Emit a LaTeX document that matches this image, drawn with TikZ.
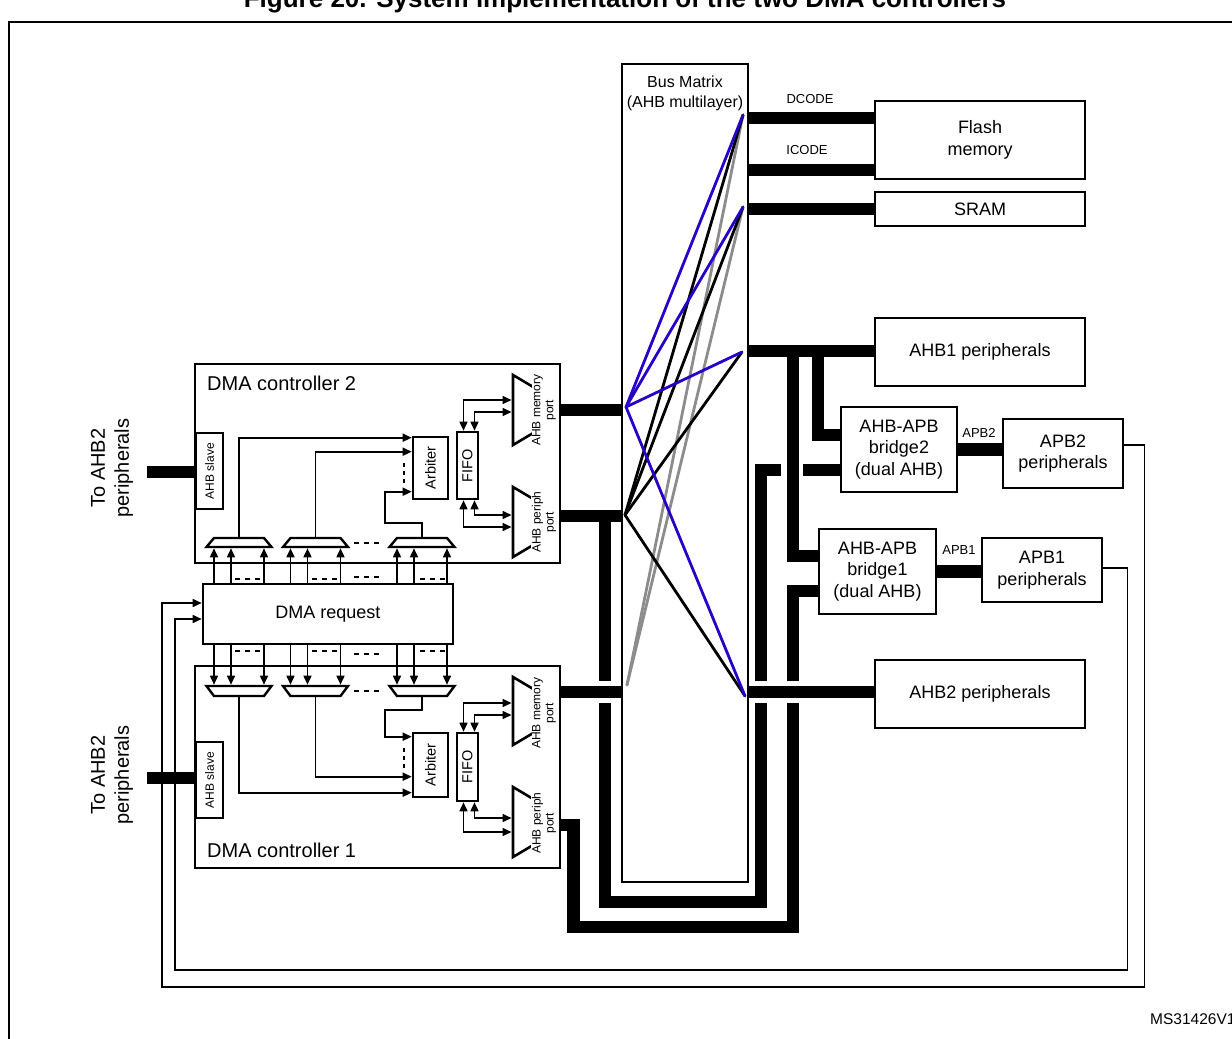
\documentclass[tikz,border=0pt]{standalone}
\usepackage{fontspec}
\setmainfont{Liberation Sans}
\usetikzlibrary{arrows.meta}
\definecolor{xblue}{RGB}{40,0,200}
\definecolor{xgray}{RGB}{140,140,140}
\newcommand\ftA{\fontsize{20}{24}\selectfont}
\newcommand\ftB{\fontsize{18}{21.5}\selectfont}
\newcommand\ftC{\fontsize{16}{20}\selectfont}
\newcommand\ftD{\fontsize{13}{15}\selectfont}
\newcommand\ftE{\fontsize{14.5}{16}\selectfont}
\newcommand\ftF{\fontsize{12}{13}\selectfont}
\newcommand\ftG{\fontsize{15.5}{18}\selectfont}
\begin{document}
\begin{tikzpicture}[x=1pt,y=-1pt,
  box/.style={draw, line width=2.6pt, inner sep=0pt, align=center},
  portline/.style={draw, line width=2.6pt, line join=miter},
  bus/.style={line width=12.5pt, line cap=butt, line join=miter},
  gapw/.style={white, line width=22pt, line cap=butt},
  thinl/.style={line width=1.6pt},
  arr/.style={thinl, -{Triangle[length=9pt,width=8pt]}},
  darr/.style={thinl, {Triangle[length=9pt,width=8pt]}-{Triangle[length=9pt,width=8pt]}},
  xbar/.style={line width=2.8pt, line cap=round},
  dsh/.style={line width=1.8pt, dash pattern=on 5pt off 5pt},
  dsv/.style={line width=1.8pt, dash pattern=on 4pt off 4pt},
  muxline/.style={draw, line width=2.4pt, line join=miter},
  ptext/.style={font=\ftF, align=center, rotate=90, fill=white, inner sep=0.5pt},
  muxup/.pic={
    \draw[muxline] (-25,-4.5) -- (25,-4.5) -- (32.5,4.5) -- (-32.5,4.5) -- cycle;
    \coordinate (-t) at (0,-5.7);
    \coordinate (-i1) at (-25,5.8);
    \coordinate (-i2) at (-8,5.8);
    \coordinate (-i3) at (25,5.8);
  },
  muxdown/.pic={
    \draw[muxline] (-32.5,-5) -- (32.5,-5) -- (25,5) -- (-25,5) -- cycle;
    \coordinate (-t) at (0,6.2);
    \coordinate (-i1) at (-25,-6.3);
    \coordinate (-i2) at (-8,-6.3);
    \coordinate (-i3) at (25,-6.3);
  }
]
\useasboundingbox (0,0) rectangle (1232,1039);

% frame and title
\draw[line width=2pt] (9,22) rectangle (1262,1062);
\node[font=\bfseries\fontsize{26}{30}\selectfont, anchor=base, inner sep=0pt] (title) at (625,7) {Figure 20. System implementation of the two DMA controllers};
\node[font=\ftG, anchor=west, inner sep=0pt] (ms) at (1150,1019) {MS31426V1};

% level coordinates
\coordinate (ydc) at (0,118);
\coordinate (yic) at (0,170);
\coordinate (ya1) at (0,351);
\coordinate (ya2) at (0,692);
\coordinate (y2m) at (0,410);
\coordinate (y2p) at (0,516);
\coordinate (y1m) at (0,692);
\coordinate (y1p) at (0,825);
\coordinate (ys2) at (0,472);
\coordinate (ys1) at (0,778);

% bus matrix
\node[box, line width=2pt, minimum width=126pt, minimum height=818pt] (bm) at (685,473) {};
\node[font=\ftC, align=center] (bml) at (685,93) {Bus Matrix\\(AHB multilayer)};

% right side boxes
\node[box, minimum width=210pt, minimum height=78pt, font=\ftB] (flash) at (980,140) {Flash\\memory};
\node[box, minimum width=210pt, minimum height=34pt, font=\ftB] (sram) at (980,209) {SRAM};
\node[box, minimum width=210pt, minimum height=68pt, font=\ftB] (ahb1) at (980,352) {AHB1 peripherals};
\node[box, minimum width=210pt, minimum height=68pt, font=\ftB] (ahb2) at (980,694) {AHB2 peripherals};
\node[box, minimum width=116pt, minimum height=85pt, font=\ftB] (br2) at (899,449.5) {AHB-APB\\bridge2\\(dual AHB)};
\node[box, minimum width=117pt, minimum height=85pt, font=\ftB] (br1) at (877.5,571.5) {AHB-APB\\bridge1\\(dual AHB)};
\node[box, minimum width=120pt, minimum height=69pt, font=\ftB] (apb2) at (1063,453.5) {APB2\\peripherals};
\node[box, minimum width=120pt, minimum height=64pt, font=\ftB] (apb1) at (1042,570) {APB1\\peripherals};
\node[font=\ftD] (lapb2) at (979,433) {APB2};
\node[font=\ftD] (lapb1) at (959,550) {APB1};
\node[font=\ftD] (ldc) at (810,99) {DCODE};
\node[font=\ftD] (lic) at (807,150) {ICODE};

% DMA controllers
\node[box, minimum width=365pt, minimum height=199pt] (dma2) at (377.5,463.5) {};
\node[box, minimum width=365pt, minimum height=202pt] (dma1) at (377.5,767) {};
\node[font=\ftA, anchor=base west, inner sep=0pt] (t2) at (207,390) {DMA controller 2};
\node[font=\ftA, anchor=base west, inner sep=0pt] (t1) at (207,857) {DMA controller 1};
\node[box, minimum width=250pt, minimum height=60pt, font=\ftB] (req) at (328,614) {DMA request};
\node[box, minimum width=27pt, minimum height=76pt, font=\ftF] (slave2) at (209.5,471) {\rotatebox{90}{AHB slave}};
\node[box, minimum width=27pt, minimum height=76pt, font=\ftF] (slave1) at (209.5,780) {\rotatebox{90}{AHB slave}};
\node[box, minimum width=35pt, minimum height=62pt, font=\ftE] (arb2) at (430.5,468) {\rotatebox{90}{Arbiter}};
\node[box, minimum width=21pt, minimum height=67pt, font=\ftE] (fifo2) at (467.5,465.5) {\rotatebox{90}{FIFO}};
\node[box, minimum width=35pt, minimum height=64pt, font=\ftE] (arb1) at (430.5,765) {\rotatebox{90}{Arbiter}};
\node[box, minimum width=21pt, minimum height=68pt, font=\ftE] (fifo1) at (467.5,767) {\rotatebox{90}{FIFO}};

\node[font=\ftA, align=center, rotate=90] (to2) at (112,468) {To AHB2\\peripherals};
\node[font=\ftA, align=center, rotate=90] (to1) at (112,775) {To AHB2\\peripherals};

% ports
\draw[portline] (513,375) -- (545,394) -- (545,426) -- (513,445) -- cycle;
\node[ptext] (tm2) at (544,410) {AHB memory\\port};
\draw[portline] (513,487) -- (545,506) -- (545,538) -- (513,557) -- cycle;
\node[ptext] (tp2) at (544,522) {AHB periph\\port};
\draw[portline] (513,677) -- (545,696) -- (545,726) -- (513,745) -- cycle;
\node[ptext] (tm1) at (544,713) {AHB memory\\port};
\draw[portline] (513,787) -- (545,806) -- (545,838) -- (513,857) -- cycle;
\node[ptext] (tp1) at (544,823) {AHB periph\\port};
\coordinate (pm2a) at (511.5,400);
\coordinate (pm2b) at (511.5,412);
\coordinate (pp2a) at (511.5,515);
\coordinate (pp2b) at (511.5,527);
\coordinate (pm1a) at (511.5,703);
\coordinate (pm1b) at (511.5,715);
\coordinate (pp1a) at (511.5,818);
\coordinate (pp1b) at (511.5,832);

% FIFO <-> ports
\draw[darr] ([xshift=-4pt]fifo2.north) |- (pm2a);
\draw[darr] ([xshift=7pt]fifo2.north) |- (pm2b);
\draw[darr] ([xshift=-4pt]fifo2.south) |- (pp2b);
\draw[darr] ([xshift=7pt]fifo2.south) |- (pp2a);
\draw[darr] ([xshift=-4pt]fifo1.north) |- (pm1a);
\draw[darr] ([xshift=7pt]fifo1.north) |- (pm1b);
\draw[darr] ([xshift=-4pt]fifo1.south) |- (pp1b);
\draw[darr] ([xshift=7pt]fifo1.south) |- (pp1a);

% muxes
\pic (m2a) at (239,542.5) {muxup};
\pic (m2b) at (315.5,542.5) {muxup};
\pic (m2c) at (422,542.5) {muxup};
\pic (m1a) at (239,691) {muxdown};
\pic (m1b) at (315.5,691) {muxdown};
\pic (m1c) at (422,691) {muxdown};

% request -> muxes
\foreach \m in {m2a,m2b,m2c} {
  \foreach \i in {i1,i2,i3} {
    \draw[arr] (req.north -| \m-\i) -- (\m-\i);
  }
}
\foreach \m in {m1a,m1b,m1c} {
  \foreach \i in {i1,i2,i3} {
    \draw[arr] (req.south -| \m-\i) -- (\m-\i);
  }
}
% dashes
\foreach \a in {235,312,420} {
  \draw[dsh] (\a,579) -- ++(25,0);
  \draw[dsh] (\a,651) -- ++(25,0);
}
\draw[dsh] (354,577) -- ++(25,0);
\draw[dsh] (354,654) -- ++(25,0);
\draw[dsh] (354,543) -- ++(25,0);
\draw[dsh] (354,691) -- ++(25,0);
\draw[dsv] (404,463) -- ++(0,20);
\draw[dsv] (404,748) -- ++(0,20);

% muxes -> arbiters
\draw[arr] (m2a-t) |- ([yshift=-2pt]arb2.north west);
\draw[arr] (m2b-t) |- ([yshift=-16pt]arb2.north west);
\draw[arr] (m2c-t) -- ++(0,-14) -| ([xshift=-27pt,yshift=-56pt]arb2.north west) -- ([yshift=-56pt]arb2.north west);
\draw[arr] (m1a-t) |- ([yshift=-61pt]arb1.north west);
\draw[arr] (m1b-t) |- ([yshift=-45pt]arb1.north west);
\draw[arr] (m1c-t) -- ++(0,13) -| ([xshift=-27pt,yshift=-5pt]arb1.north west) -- ([yshift=-5pt]arb1.north west);

% feedback lines from APB peripherals to DMA request
\draw[arr] ([yshift=8.5pt]apb2.east) -- ++(20,0) |- (162,987) |- ([yshift=11pt]req.west);
\draw[arr] ([yshift=2pt]apb1.east) -- ++(24,0) |- (175,970) |- ([yshift=-5pt]req.west);

% buses (under)
\draw[bus] (dma2.east |- y2p) -- (bm.west |- y2p);
\draw[bus] (605,516) -- (605,902) -- (761,902) -- (761,470) -- ([yshift=-20.5pt]br2.west);
\draw[bus] (dma1.east |- y1p) -- (573.5,825) -- (573.5,927) -- (793,927) -- (793,591) -- ([yshift=-19.5pt]br1.west);
% buses (over, with gaps)
\draw[gapw] (594,692) -- (616,692);
\draw[bus] (dma1.east |- y1m) -- (bm.west |- y1m);
\draw[bus] (dma2.east |- y2m) -- (bm.west |- y2m);
\draw[gapw] (752,692) -- (803,692);
\draw[bus] (bm.east |- ya2) -- (ahb2.west |- ya2);
\draw[gapw] (792,459) -- (792,481);
\draw[bus] (793,351) -- (793,556) -- ([yshift=15.5pt]br1.west);
\draw[bus] (818,351) -- (818,435) -- ([yshift=14.5pt]br2.west);
\draw[bus] (bm.east |- ya1) -- (ahb1.west |- ya1);
\draw[bus] (bm.east |- ydc) -- (flash.west |- ydc);
\draw[bus] (bm.east |- yic) -- (flash.west |- yic);
\draw[bus] (bm.east |- sram.west) -- (sram.west);
\draw[bus] (br2.east) -- (br2.east -| apb2.west);
\draw[bus] (br1.east) -- (br1.east -| apb1.west);
\draw[bus] (slave2.west |- ys2) -- ++(-48,0);
\draw[bus] (slave1.west |- ys1) -- ++(-48,0);

% crossbar
\coordinate (xm2) at (626,407);
\coordinate (xp2) at (625,515);
\coordinate (xm1) at (627,685);
\coordinate (xfl) at (743,115);
\coordinate (xsr) at (743,207);
\coordinate (xa1) at (742,352);
\coordinate (xa2) at (745,696);
\draw[xbar, xgray] (xm1) -- (xfl);
\draw[xbar, xgray] (xm1) -- (xsr);
\draw[xbar, black] (xp2) -- (xfl);
\draw[xbar, black] (xp2) -- (xsr);
\draw[xbar, black] (xp2) -- (xa1);
\draw[xbar, black] (xp2) -- (xa2);
\draw[xbar, xblue] (xm2) -- (xfl);
\draw[xbar, xblue] (xm2) -- (xsr);
\draw[xbar, xblue] (xm2) -- (xa1);
\draw[xbar, xblue] (xm2) -- (xa2);
\end{tikzpicture}
\end{document}
